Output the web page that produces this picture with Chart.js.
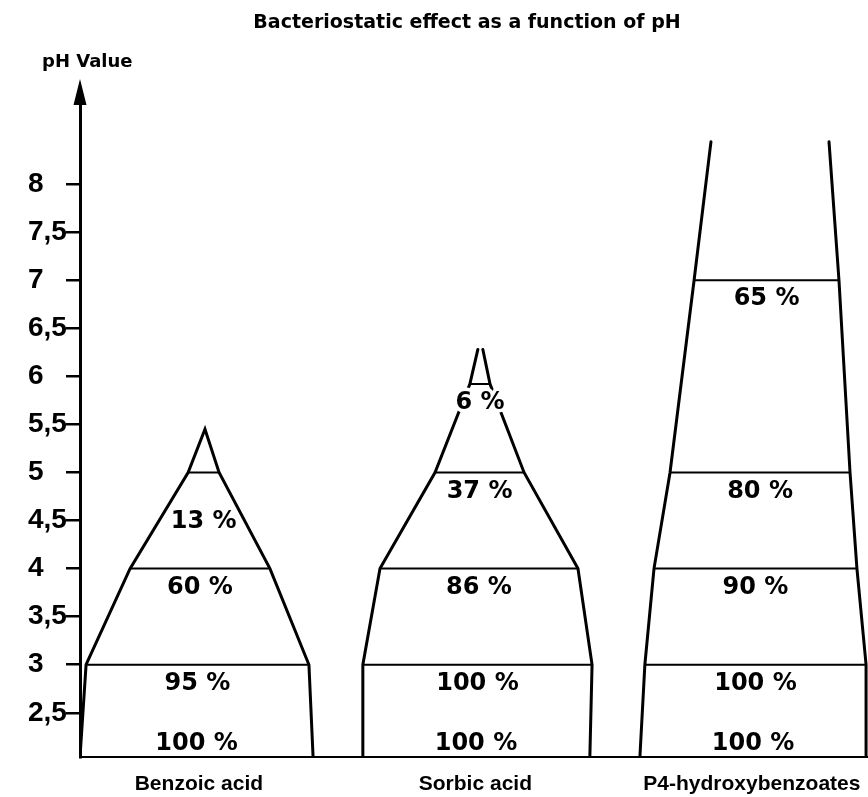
<!DOCTYPE html>
<html>
<head>
<meta charset="utf-8">
<script src="https://cdn.jsdelivr.net/npm/chart.js@4.4.1/dist/chart.umd.min.js"></script>
<style>
html,body{margin:0;padding:0;background:#fff}
#wrap{width:868px;height:797px;position:relative;background:#fff}
</style>
</head>
<body>
<div id="wrap"><canvas id="c"></canvas></div>
<script>
const chartTitle = "Bacteriostatic effect as a function of pH";
const yAxisTitle = "pH Value";
const categories = ["Benzoic acid", "Sorbic acid", "P4-hydroxybenzoates"];
const categoryPositions = [1, 2, 3];
const yTicks = [2.5, 3, 3.5, 4, 4.5, 5, 5.5, 6, 6.5, 7, 7.5, 8];
const yTickLabels = ["2,5", "3", "3,5", "4", "4,5", "5", "5,5", "6", "6,5", "7", "7,5", "8"];

// Benzoic acid: pH of base, band lines and tip; outline edges (category units); effect under each line
const benzoicPH = [2.04, 3, 4, 5, 5.45];
const benzoicLeft = [0.57, 0.592, 0.751, 0.961, 1.022];
const benzoicRight = [1.413, 1.398, 1.257, 1.073, 1.022];
const benzoicEffect = [100, 95, 60, 13];

// Sorbic acid
const sorbicPH = [2.04, 3, 4, 5, 5.92, 6.28];
const sorbicLeft = [1.590, 1.593, 1.655, 1.854, 1.980, 2.009];
const sorbicRight = [2.414, 2.422, 2.371, 2.176, 2.053, 2.027];
const sorbicEffect = [100, 100, 86, 37, 6];

// P4-hydroxybenzoates
const phbPH = [2.04, 3, 4, 5, 7, 8.44];
const phbLeft = [2.595, 2.613, 2.646, 2.704, 2.791, 2.852];
const phbRight = [3.413, 3.413, 3.380, 3.355, 3.315, 3.279];
const phbEffect = [100, 100, 90, 80, 65];

const substances = [
  { ph: benzoicPH, left: benzoicLeft, right: benzoicRight, effect: benzoicEffect, closed: true, shift: [0, 0, 0, 30] },
  { ph: sorbicPH, left: sorbicLeft, right: sorbicRight, effect: sorbicEffect, closed: false },
  { ph: phbPH, left: phbLeft, right: phbRight, effect: phbEffect, closed: false }
];

function outline(points) {
  return { data: points, showLine: true, borderColor: '#000', borderWidth: 3, pointRadius: 0,
    pointHoverRadius: 0, fill: false, tension: 0, borderJoinStyle: 'miter', borderCapStyle: 'round' };
}
function bands(points) {
  return { data: points, showLine: true, borderColor: '#000', borderWidth: 2, pointRadius: 0,
    pointHoverRadius: 0, fill: false, tension: 0, spanGaps: false };
}

const datasets = [];
substances.forEach(s => {
  const n = s.ph.length;
  const leftPts = s.ph.map((p, i) => ({ x: s.left[i], y: p }));
  const rightPts = s.ph.map((p, i) => ({ x: s.right[i], y: p }));
  if (s.closed) {
    datasets.push(outline(leftPts.concat(rightPts.slice(0, n - 1).reverse())));
  } else {
    datasets.push(outline(leftPts));
    datasets.push(outline(rightPts));
  }
  const b = [];
  for (let i = 1; i < n - 1; i++) {
    b.push({ x: s.left[i], y: s.ph[i] }, { x: s.right[i], y: s.ph[i] }, { x: null, y: null });
  }
  datasets.push(bands(b));
});

const decorPlugin = {
  id: 'decor',
  afterDatasetsDraw(chart) {
    const { ctx, scales: { x, y } } = chart;
    ctx.save();
    ctx.font = 'bold 24px "DejaVu Sans"';
    ctx.textAlign = 'center';
    ctx.textBaseline = 'middle';
    substances.forEach(s => {
      s.effect.forEach((v, i) => {
        const cx = x.getPixelForValue((s.left[i] + s.right[i]) / 2);
        const py = y.getPixelForValue(s.ph[i]);
        const cy = i === 0 ? py - 13 : py + 19 + (s.shift ? s.shift[i] : 0);
        const t = v + ' %';
        if (i > 0) {
          ctx.lineWidth = 7; ctx.strokeStyle = '#fff'; ctx.lineJoin = 'round';
          ctx.strokeText(t, cx, cy);
        }
        ctx.fillStyle = '#000';
        ctx.fillText(t, cx, cy);
      });
    });
    ctx.restore();
  },
  afterDraw(chart) {
    const { ctx, chartArea } = chart;
    ctx.save();
    // arrow head on the pH axis
    const ax = chartArea.left;
    const top = chartArea.top;
    ctx.fillStyle = '#000';
    ctx.beginPath();
    ctx.moveTo(ax, top - 9);
    ctx.lineTo(ax - 6.5, top + 17);
    ctx.lineTo(ax + 6.5, top + 17);
    ctx.closePath();
    ctx.fill();
    // titles
    ctx.fillStyle = '#000';
    ctx.font = 'bold 19px "DejaVu Sans"';
    ctx.textAlign = 'center';
    ctx.textBaseline = 'middle';
    ctx.fillText(chartTitle, 467, 23);
    ctx.textAlign = 'left';
    ctx.font = 'bold 18px "DejaVu Sans"';
    ctx.fillText(yAxisTitle, 42, 62);
    ctx.restore();
  }
};

new Chart(document.getElementById('c'), {
  type: 'scatter',
  data: { datasets },
  options: {
    responsive: true,
    maintainAspectRatio: false,
    animation: false,
    events: [],
    layout: { padding: { top: 88, left: 28, right: 0, bottom: 0 } },
    plugins: { legend: { display: false }, tooltip: { enabled: false }, title: { display: false } },
    scales: {
      x: {
        type: 'linear', min: 0.57, max: 3.42,
        afterBuildTicks: s => { s.ticks = categoryPositions.map(v => ({ value: v })); },
        afterFit: s => { s.height = 40; s.paddingLeft = 0; s.paddingRight = 0; },
        ticks: { autoSkip: false, maxRotation: 0, padding: 7, color: '#000',
          callback: v => categories[categoryPositions.indexOf(v)],
          font: { family: '"Liberation Sans", Arial, sans-serif', size: 21, weight: 'bold' } },
        grid: { display: false },
        border: { display: true, color: '#000', width: 2 }
      },
      y: {
        min: 2.04, max: 9.0,
        afterBuildTicks: s => { s.ticks = yTicks.map(v => ({ value: v })); },
        afterFit: s => { s.width = 52; },
        ticks: { autoSkip: false, crossAlign: 'far', padding: 4, color: '#000',
          callback: v => yTickLabels[yTicks.indexOf(v)],
          font: { family: '"Liberation Sans", Arial, sans-serif', size: 28, weight: 'bold' } },
        grid: { drawOnChartArea: false, drawTicks: true, tickLength: 14, color: '#000', lineWidth: 2.5 },
        border: { display: true, color: '#000', width: 3 }
      }
    }
  },
  plugins: [decorPlugin]
});
</script>
</body>
</html>
